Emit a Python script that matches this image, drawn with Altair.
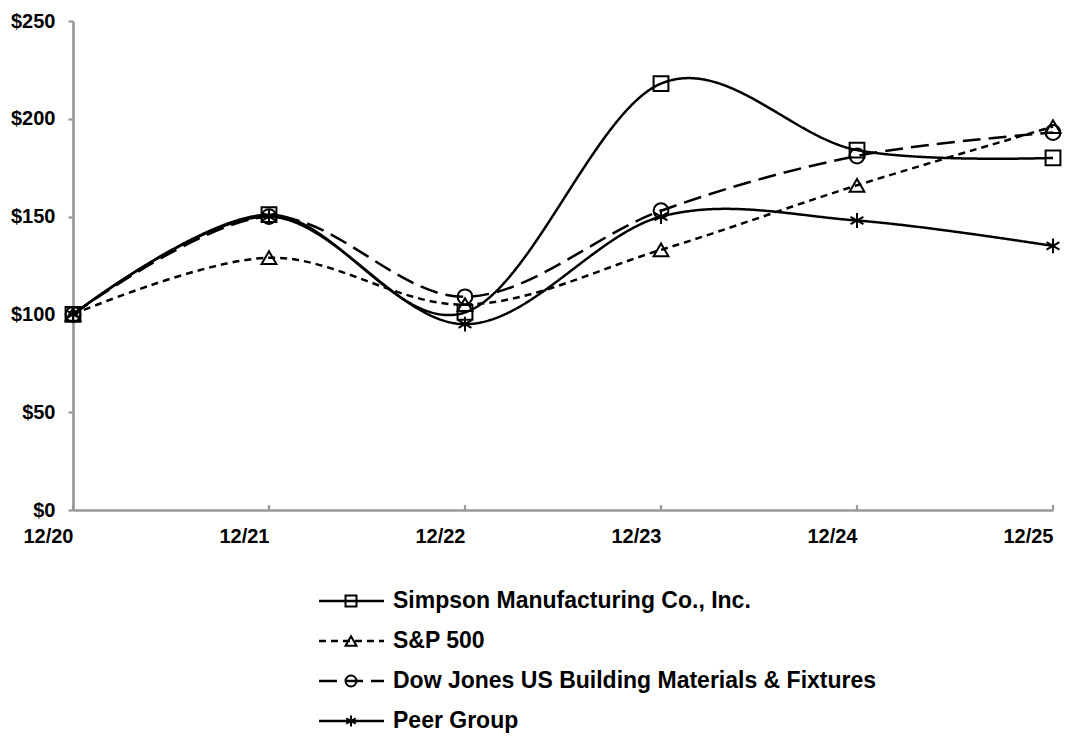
import altair as alt
import pandas as pd

years = ["12/20", "12/21", "12/22", "12/23", "12/24", "12/25"]
series_names = [
    "Simpson Manufacturing Co., Inc.",
    "S&P 500",
    "Dow Jones US Building Materials & Fixtures",
    "Peer Group",
]
simpson = [100, 151, 101, 218, 184, 180]
sp500 = [100, 129, 105, 133, 166, 196]
dowjones = [100, 150, 109, 153, 181, 193]
peer = [100, 150, 95, 150, 148, 135]

values = [simpson, sp500, dowjones, peer]
rows = []
for name, vals in zip(series_names, values):
    for yr, v in zip(years, vals):
        rows.append({"year": yr, "series": name, "value": v})
df = pd.DataFrame(rows)
year_df = pd.DataFrame({"year": years})

FONT = "Liberation Sans"
ASTERISK = "M0,-1L0,1M-0.87,-0.5L0.87,0.5M-0.87,0.5L0.87,-0.5"
shapes = ["square", "triangle-up", "circle", ASTERISK]
dashes = [[1, 0], [7, 5], [18, 8], [1, 0]]
AXIS_GRAY = "#999999"

W, H = 980, 489

shape_scale = alt.Scale(domain=series_names, range=shapes)
dash_scale = alt.Scale(domain=series_names, range=dashes)
x_scale = alt.Scale(type="point", padding=0)

x_enc = alt.X(
    "year:O",
    sort=years,
    scale=x_scale,
    axis=alt.Axis(
        title=None, labelAngle=0, labelFont=FONT, labelFontSize=20,
        labelFontWeight="bold", labelColor="black", domainColor=AXIS_GRAY,
        domainWidth=2.7, ticks=False, labelPadding=26, grid=False,
    ),
)
y_enc = alt.Y(
    "value:Q",
    scale=alt.Scale(domain=[0, 250], nice=False, zero=True),
    axis=alt.Axis(
        title=None, values=[0, 50, 100, 150, 200, 250], format="$d",
        labelFont=FONT, labelFontSize=20, labelFontWeight="bold",
        labelColor="black", domainColor=AXIS_GRAY, domainWidth=2.7,
        tickColor=AXIS_GRAY, tickWidth=2.2, tickSize=5, labelPadding=13,
        grid=False,
    ),
)

lines = alt.Chart(df).mark_line(
    interpolate="cardinal", color="black", strokeWidth=2.5
).encode(
    x=x_enc,
    y=y_enc,
    detail="series:N",
    strokeDash=alt.StrokeDash("series:N", scale=dash_scale, legend=None),
)

points = alt.Chart(df).mark_point(
    filled=False, color="black", strokeWidth=2, size=220, opacity=1
).encode(
    x=alt.X("year:O", sort=years, scale=x_scale),
    y="value:Q",
    shape=alt.Shape("series:N", scale=shape_scale, legend=None),
)

xticks = alt.Chart(year_df).mark_rule(color=AXIS_GRAY, strokeWidth=2.2).encode(
    x=alt.X("year:O", sort=years, scale=x_scale),
    y=alt.value(H),
    y2=alt.value(H - 5),
)

main = alt.layer(xticks, lines, points).properties(width=W, height=H)

leg_df = pd.DataFrame({"series": series_names})
leg_y = alt.Y("series:N", sort=series_names, axis=None,
              scale=alt.Scale(type="point", padding=0))

leg_lines = alt.Chart(leg_df).mark_rule(color="black", strokeWidth=2.5).encode(
    x=alt.value(246), x2=alt.value(311), y=leg_y,
    strokeDash=alt.StrokeDash("series:N", scale=dash_scale, legend=None),
)
leg_pts = alt.Chart(leg_df).mark_point(
    filled=False, color="black", strokeWidth=2, size=120, opacity=1
).encode(
    x=alt.value(278), y=leg_y,
    shape=alt.Shape("series:N", scale=shape_scale, legend=None),
)
leg_text = alt.Chart(leg_df).mark_text(
    align="left", baseline="middle", font=FONT, fontSize=23,
    fontWeight="bold", color="black",
).encode(x=alt.value(320), y=leg_y, text="series:N")

legend = alt.layer(leg_lines, leg_pts, leg_text).properties(width=W, height=120)

chart = alt.vconcat(main, legend, spacing=44).configure(
    padding={"left": 2, "top": 3, "right": 0, "bottom": 0}
).configure_view(stroke=None)

chart.save("out.html", embed_options={"renderer": "svg", "actions": False})
